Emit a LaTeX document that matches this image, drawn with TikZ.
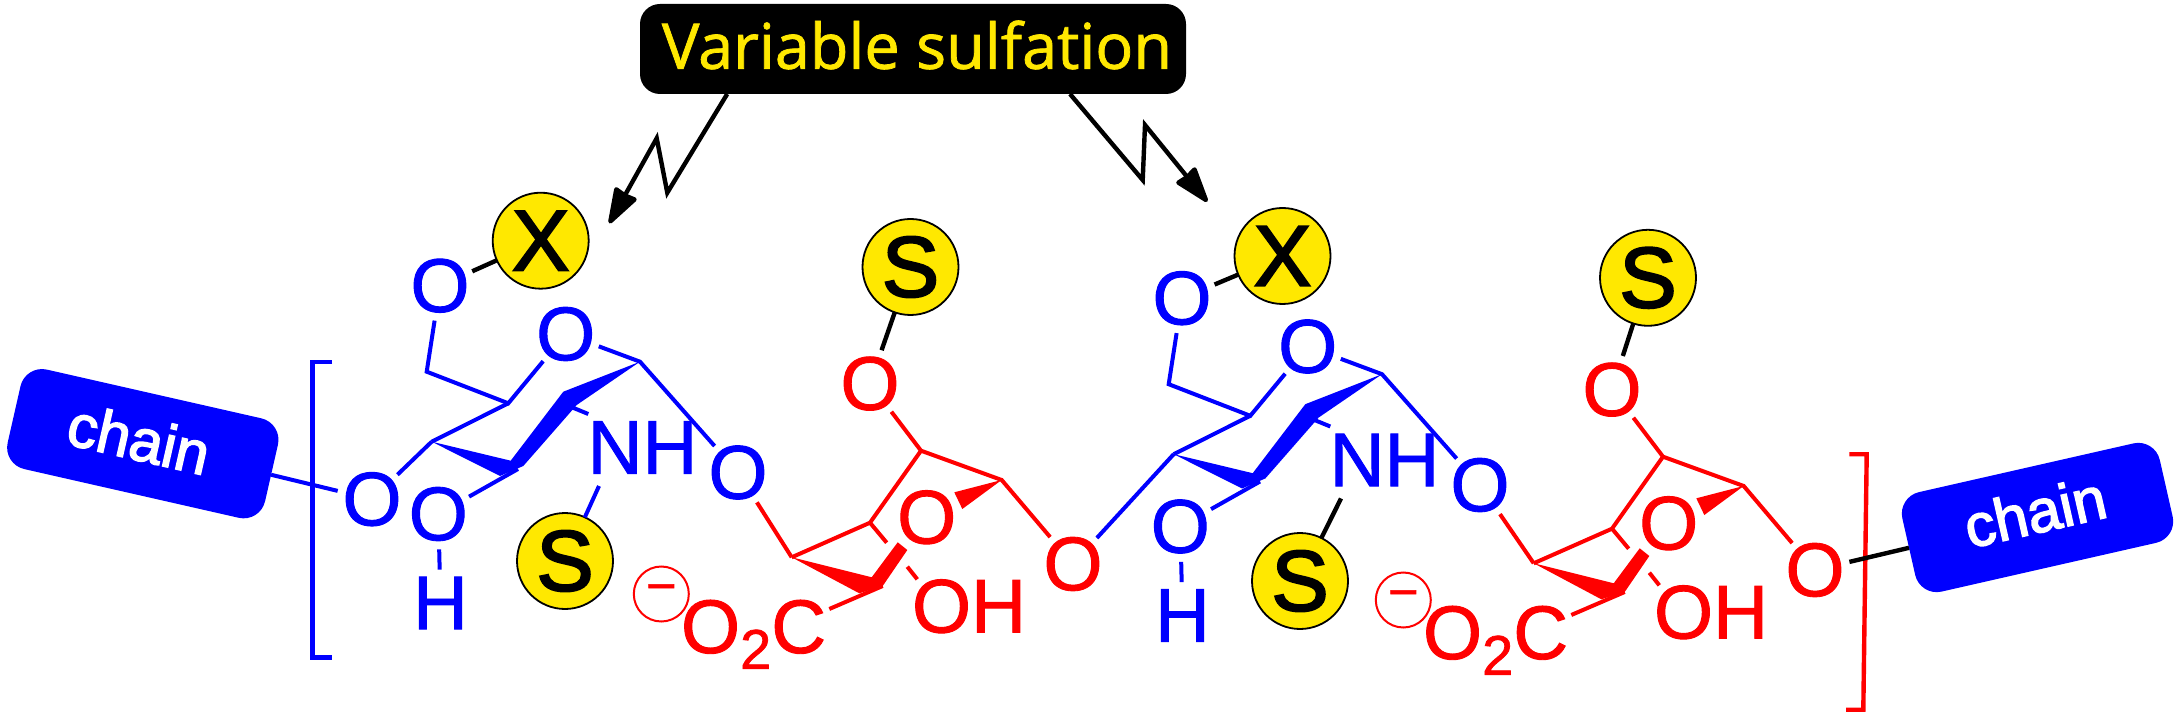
\documentclass[tikz,border=0pt]{standalone}
\usepackage{fontspec}
\setmainfont{Liberation Sans}[FakeBold=1.2]
\newfontfamily\boxfont{Open Sans}[FakeBold=1.2]
\newfontfamily\sulfont{Liberation Sans}[FakeBold=2.4]
\usetikzlibrary{arrows.meta}
\definecolor{sulfyellow}{RGB}{255,232,0}
\newcommand{\atomfont}{\fontsize{38}{38}\selectfont}
\tikzset{
	blueatom/.style={circle,inner sep=-1.6pt,outer sep=0pt,text=blue,font=\atomfont},
	redatom/.style={circle,inner sep=-1.6pt,outer sep=0pt,text=red,font=\atomfont},
	bluetext/.style={inner sep=0pt,outer sep=0pt,text=blue,font=\atomfont},
	redtext/.style={inner sep=0pt,outer sep=0pt,text=red,font=\atomfont},
	bluebond/.style={draw=blue,line width=2pt},
	redbond/.style={draw=red,line width=2pt},
	blackbond/.style={draw=black,line width=2.2pt},
	sulfate/.style={circle,draw=black,line width=.9pt,fill=sulfyellow,minimum size=48pt,inner sep=0pt,outer sep=0pt,font=\sulfont\fontsize{43}{43}\selectfont},
	chainbox/.style={rectangle,rounded corners=11pt,fill=blue,minimum width=132pt,minimum height=51pt,inner sep=0pt,outer sep=0pt},
	chaintext/.style={text=white,inner sep=0pt,font=\sulfont\fontsize{30}{30}\selectfont},
	titlebox/.style={rectangle,rounded corners=10pt,fill=black,minimum width=273pt,minimum height=45pt,inner sep=0pt,outer sep=0pt},
	titletext/.style={text=sulfyellow,inner sep=0pt,font=\boxfont\fontsize{31.5}{31.5}\selectfont},
	pointer/.style={blackbond,-{Stealth[length=20pt,width=13pt,inset=.5pt,round]}},
	% the amine sugar
	bluepart/.pic={
		\node[blueatom] (o6) at (440,285.7) {O};
		\node[blueatom] (or) at (565.7,334) {O};
		\node[blueatom] (o3) at (438.3,514) {O};
		\node[blueatom] (h) at (440.5,603) {H};
		\node[bluetext] (nh) at (642.5,447.5) {NH};
		\node[blueatom] (o1) at (738,472.5) {O};
		\coordinate (c1) at (640,361.7);
		\coordinate (c3) at (518,469);
		\coordinate (c4) at (431.7,441.7);
		\coordinate (c5) at (508.3,403.3);
		\coordinate (c6) at (426.7,371.7);
		\coordinate (nha) at (568,405.7);
		\coordinate (nhb) at (588.3,414);
		\coordinate (nhs) at (599,486);
		\fill[blue] (c1) -- (563.3,391.7) -- (510.7,460.7) -- (c4) -- (500,476) -- (523.3,466) -- (576.7,405) -- cycle;
		\draw[bluebond] (or) -- (c5) -- (c6) -- (o6);
		\draw[bluebond] (or) -- (c1) -- (o1);
		\draw[bluebond] (c5) -- (c4);
		\draw[bluebond] (c3) -- (o3) -- (h);
		\draw[bluebond] (nha) -- (nhb);
	},
	% the uronic acid
	redpart/.pic={
		\node[redatom] (ot) at (870,383.6) {O};
		\node[redatom] (oi) at (926.7,517.3) {O};
		\node[redatom] (ob) at (1073,564) {O};
		\node[redtext] (oh) at (969,606.3) {OH};
		\node[redtext,anchor=base west] (co) at (681,653) {O\raisebox{-7.9pt}{\fontsize{28}{28}\selectfont 2}C};
		\node[circle,draw=red,line width=1pt,text=red,minimum size=27.5pt,inner sep=0pt,outer sep=0pt,font=\fontsize{26}{26}\selectfont] (neg) at (661.3,594) {−};
		\coordinate (ct) at (921,450.7);
		\coordinate (cr) at (1001.7,480);
		\coordinate (cb) at (870,522.7);
		\coordinate (cl) at (791.7,557.3);
		\coordinate (cw) at (882.7,586);
		\coordinate (coa) at (829.3,609);
		\coordinate (ga) at (886.7,542.7);
		\coordinate (gb) at (907.3,566.7);
		\coordinate (gc) at (917.3,579.3);
		\fill[red] (cr) -- (954.3,492.3) -- (962.3,509) -- cycle;
		\fill[red] (cl) -- (871.7,577.3) -- (897.7,542.3) -- (907.3,550) -- (cw) -- (859.3,593.3) -- cycle;
		\draw[redbond] (ot) -- (ct) -- (cr) -- (ob);
		\draw[redbond] (ct) -- (cb) -- (cl);
		\draw[redbond] (cb) -- (ga);
		\draw[redbond] (gb) -- (gc);
		\draw[redbond] (cw) -- (coa);
	},
}
\begin{document}
\begin{tikzpicture}[x=.5pt,y=-.5pt]
	\useasboundingbox (0,0) rectangle (2184,721);

	\node[titlebox] (vs) at (913,49) {};
	\node[titletext] (vst) at (917,45) {Variable sulfation};

	\pic (bl) at (0,0) {bluepart};
	\pic (rl) at (0,0) {redpart};
	\pic (bm) at (742,12.5) {bluepart};
	\pic (rm) at (742,6) {redpart};

	\node[blueatom] (oe) at (372,499.2) {O};
	\node[chainbox,rotate=-12.8] (chl) at (142.8,443.7) {};
	\node[chaintext,rotate=-12.8] (chlt) at (139,438.7) {chain};
	\node[chainbox,rotate=12.8] (chr) at (2037.5,517.5) {};
	\node[chaintext,rotate=12.8] (chrt) at (2035,511.7) {chain};

	\node[sulfate] (x1) at (540.7,240.7) {X};
	\node[sulfate] (s1) at (565,561) {S};
	\node[sulfate] (s2) at (910.5,267) {S};
	\node[sulfate] (x2) at (1282.5,256) {X};
	\node[sulfate] (s3) at (1300,581) {S};
	\node[sulfate] (s4) at (1648,277.8) {S};

	% the brackets
	\coordinate (lbt) at (332,362);
	\coordinate (lbb) at (332,657.5);
	\draw[blue,line width=2.2pt] (lbt) -- (312.5,362) -- (312.5,657.5) -- (lbb);
	\coordinate (rbt) at (1849.3,454.3);
	\coordinate (rbb) at (1846,709.7);
	\draw[red,line width=2.2pt] (rbt) -- (1866.7,454.3) -- (1863.3,709.7) -- (rbb);

	% links between the parts
	\path[bluebond] (blc4) edge (oe);
	\path[bluebond] (chl) edge (oe);
	\path[redbond] (blo1) edge (rlcl);
	\path[redbond] (bmo1) edge (rmcl);
	\path[bluebond] (bmc4) edge (rlob);
	\path[blackbond] (rmob) edge (chr);

	\path[blackbond] (blo6) edge (x1);
	\path[blackbond] (bmo6) edge (x2);
	\path[blackbond] (rlot) edge (s2);
	\path[blackbond] (rmot) edge (s4);
	\path[bluebond] (blnhs) edge (s1);
	\path[blackbond] (bmnhs) edge (s3);

	% the two pointers
	\coordinate (pa) at (667.3,192.7);
	\coordinate (pb) at (656.7,138.3);
	\coordinate (pc) at (609.3,223.3);
	\coordinate (qa) at (1142.7,180);
	\coordinate (qb) at (1145,125);
	\coordinate (qc) at (1207.3,201.7);
	\draw[pointer] ([xshift=43.6pt]vs.south west) -- (pa) -- (pb) -- (pc);
	\draw[pointer] ([xshift=-58pt]vs.south east) -- (qa) -- (qb) -- (qc);
\end{tikzpicture}
\end{document}
